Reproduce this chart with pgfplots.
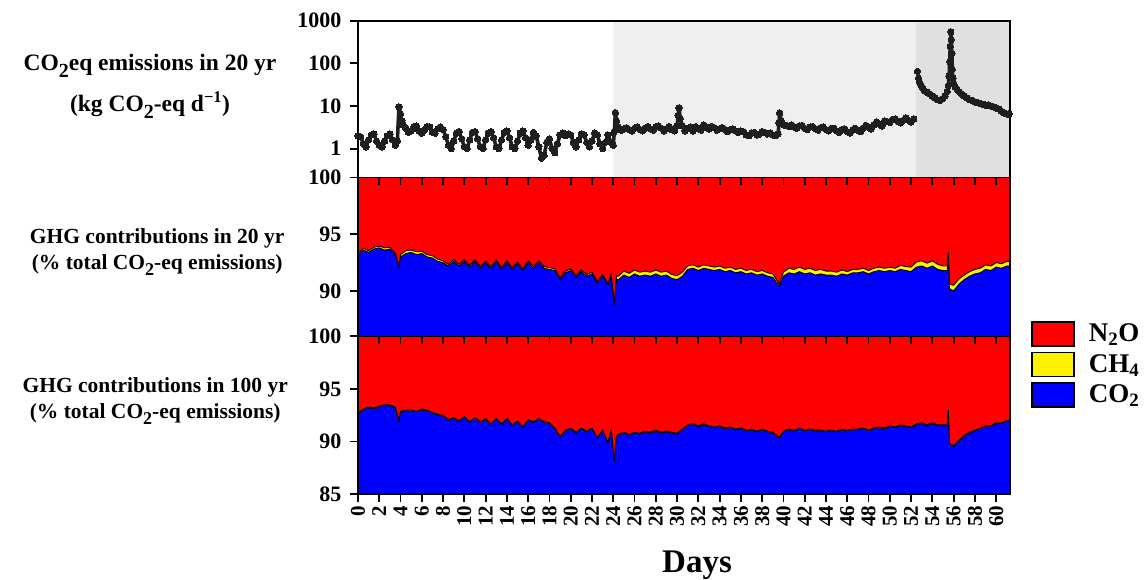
\documentclass[border=0pt]{standalone}
\usepackage{pgfplots}
\pgfplotsset{compat=1.18}
\usepackage{pgfplotstable}
\usepackage{fontspec}
\setmainfont{Liberation Serif}
\definecolor{lgray}{RGB}{239,239,239}
\definecolor{dgray}{RGB}{224,224,224}
\definecolor{dots}{RGB}{30,30,30}
\newcommand{\subtwo}{{\fontsize{18}{18}\selectfont\raisebox{-0.7ex}{2}}}
\newcommand{\subtwob}{{\fontsize{20}{20}\selectfont\raisebox{-0.7ex}{2}}}

\pgfplotstableread{
x y
0.00 2.0
0.25 1.9
0.50 1.3
0.75 1.1
1.00 1.6
1.25 2.1
1.50 2.2
1.75 1.5
2.00 1.2
2.25 1.1
2.50 1.5
2.75 2.0
3.00 2.2
3.25 1.6
3.50 1.2
3.70 1.5
3.85 9.5
4.00 6.5
4.12 4.5
4.25 3.6
4.50 3.0
4.75 2.4
5.00 2.6
5.25 3.3
5.50 3.4
5.75 2.6
6.00 2.3
6.25 2.8
6.50 3.3
6.75 3.2
7.00 2.4
7.25 2.3
7.50 2.9
7.75 3.2
8.00 2.8
8.25 1.9
8.50 1.2
8.75 1.0
9.00 1.5
9.25 2.3
9.50 2.5
9.75 1.7
10.00 1.1
10.25 1.0
10.50 1.6
10.75 2.4
11.00 2.5
11.25 1.7
11.50 1.1
11.75 1.0
12.00 1.6
12.25 2.3
12.50 2.5
12.75 1.8
13.00 1.1
13.25 1.0
13.50 1.6
13.75 2.4
14.00 2.6
14.25 1.8
14.50 1.1
14.75 1.0
15.00 1.5
15.25 2.3
15.50 2.6
15.75 1.8
16.00 1.2
16.25 1.6
16.50 2.4
16.75 2.0
17.00 1.1
17.25 0.6
17.50 0.7
17.75 1.4
18.00 1.7
18.25 1.0
18.50 0.8
18.75 1.3
19.00 2.1
19.25 2.3
19.50 2.0
19.75 2.2
20.00 2.1
20.25 1.4
20.50 1.1
20.75 1.6
21.00 2.2
21.25 2.1
21.50 1.4
21.75 1.1
22.00 1.5
22.25 2.3
22.50 2.1
22.75 1.3
23.00 1.0
23.25 1.4
23.50 2.1
23.75 1.4
24.00 1.2
24.10 2.5
24.20 7.0
24.30 4.5
24.45 3.2
24.75 2.7
25.00 2.9
25.25 3.1
25.50 2.8
25.75 2.6
26.00 3.0
26.25 3.2
26.50 2.8
26.75 2.6
27.00 3.0
27.25 3.3
27.50 2.9
27.75 2.7
28.00 3.2
28.25 3.4
28.50 3.0
28.75 2.6
29.00 2.9
29.25 3.3
29.50 2.8
29.75 2.6
30.00 3.4
30.10 6.0
30.18 9.0
30.30 5.0
30.50 3.4
30.75 2.6
31.00 3.0
31.25 3.2
31.50 2.6
31.75 3.3
32.00 3.0
32.25 2.7
32.50 3.6
32.75 3.2
33.00 2.9
33.25 3.3
33.50 3.1
33.75 2.7
34.00 2.9
34.25 3.1
34.50 2.8
34.75 2.5
35.00 2.8
35.25 2.9
35.50 2.6
35.75 2.4
36.00 2.6
36.25 2.5
36.50 2.1
36.75 2.0
37.00 2.3
37.25 2.4
37.50 2.1
37.75 2.2
38.00 2.5
38.25 2.4
38.50 2.2
38.75 2.3
39.00 2.1
39.25 2.0
39.50 2.2
39.58 4.0
39.65 6.8
39.80 4.5
40.00 3.6
40.25 3.5
40.50 3.3
40.75 3.6
41.00 3.2
41.25 3.0
41.50 3.4
41.75 3.5
42.00 3.0
42.25 2.8
42.50 3.2
42.75 3.3
43.00 2.9
43.25 2.7
43.50 3.1
43.75 3.2
44.00 2.8
44.25 2.6
44.50 3.0
44.75 3.0
45.00 2.6
45.25 2.4
45.50 2.8
45.75 2.9
46.00 2.5
46.25 2.3
46.50 2.7
46.75 3.0
47.00 2.7
47.25 2.5
47.50 3.0
47.75 3.5
48.00 3.2
48.25 2.9
48.50 3.6
48.75 4.2
49.00 3.8
49.25 3.4
49.50 4.5
49.75 4.3
50.00 4.1
50.25 4.8
50.50 5.0
50.75 4.4
51.00 4.0
51.25 4.6
51.50 5.3
51.75 4.6
52.00 4.2
52.25 5.0
}\emA

\pgfplotstableread{
x y
52.60 65
52.70 45
52.80 36
52.95 30
53.10 26
53.25 23
53.50 21
53.75 19
54.00 17
54.25 15.5
54.50 14
54.75 13.5
55.00 15
55.20 17
55.40 22
55.50 30
55.58 50
55.63 110
55.68 250
55.73 550
55.78 360
55.83 170
55.88 72
55.93 45
56.00 34
56.15 28
56.35 24
56.55 21
56.75 19
57.00 17
57.25 15.5
57.50 14
57.75 13.5
58.00 12.5
58.25 12
58.50 11.5
58.75 11
59.00 10.5
59.25 10.5
59.50 10
59.75 9.5
60.00 9
60.25 8.5
60.50 7.5
60.75 6.8
61.00 6.5
61.20 6.5
}\emB

\pgfplotstableread{
x c h
0.0 93.1 0.15
0.5 93.6 0.15
1.0 93.4 0.15
1.5 93.7 0.15
2.0 93.8 0.15
2.5 93.6 0.2
3.0 93.7 0.15
3.5 93.2 0.15
3.85 92.1 0.1
4.0 93.0 0.2
4.5 93.3 0.25
5.0 93.4 0.2
5.5 93.2 0.25
6.0 93.3 0.2
6.5 93.0 0.2
7.0 92.9 0.2
7.5 92.6 0.2
8.0 92.5 0.15
8.5 92.2 0.15
9.0 92.6 0.15
9.5 92.2 0.15
10.0 92.6 0.15
10.5 92.1 0.15
11.0 92.6 0.15
11.5 92.0 0.15
12.0 92.5 0.15
12.5 92.0 0.15
13.0 92.6 0.15
13.5 91.9 0.15
14.0 92.5 0.15
14.5 91.9 0.15
15.0 92.4 0.15
15.5 91.8 0.15
16.0 92.5 0.15
16.5 92.0 0.15
17.0 92.5 0.15
17.5 92.0 0.15
18.0 91.9 0.15
18.5 91.8 0.15
19.0 91.0 0.15
19.5 91.6 0.15
20.0 91.8 0.15
20.5 91.2 0.15
21.0 91.7 0.15
21.5 91.3 0.15
22.0 91.5 0.15
22.5 90.7 0.15
23.0 91.3 0.15
23.5 90.5 0.15
23.8 91.3 0.2
24.1 88.7 0.1
24.3 91.0 0.3
24.5 91.0 0.3
25.0 91.4 0.35
25.5 91.2 0.35
26.0 91.5 0.35
26.5 91.3 0.35
27.0 91.4 0.35
27.5 91.3 0.35
28.0 91.5 0.35
28.5 91.3 0.35
29.0 91.4 0.35
29.5 91.1 0.35
30.0 91.0 0.35
30.5 91.3 0.35
31.0 91.9 0.3
31.5 92.0 0.3
32.0 91.8 0.3
32.5 92.0 0.3
33.0 91.9 0.3
33.5 91.8 0.3
34.0 91.9 0.3
34.5 91.7 0.3
35.0 91.8 0.3
35.5 91.6 0.3
36.0 91.7 0.3
36.5 91.5 0.3
37.0 91.6 0.3
37.5 91.4 0.3
38.0 91.5 0.3
38.5 91.3 0.3
39.0 91.2 0.3
39.6 90.4 0.2
40.0 91.3 0.35
40.5 91.6 0.4
41.0 91.5 0.4
41.5 91.7 0.4
42.0 91.5 0.4
42.5 91.6 0.4
43.0 91.4 0.4
43.5 91.5 0.4
44.0 91.4 0.35
44.5 91.4 0.35
45.0 91.3 0.35
45.5 91.5 0.35
46.0 91.4 0.3
46.5 91.6 0.3
47.0 91.6 0.3
47.5 91.7 0.3
48.0 91.5 0.3
48.5 91.7 0.3
49.0 91.8 0.3
49.5 91.7 0.3
50.0 91.8 0.3
50.5 91.7 0.3
51.0 91.9 0.35
51.5 91.8 0.35
52.0 91.7 0.4
52.5 92.1 0.45
53.0 92.2 0.45
53.5 92.0 0.45
54.0 92.2 0.45
54.5 91.9 0.45
55.0 91.8 0.4
55.4 91.8 0.4
55.5 93.3 0.1
55.6 90.2 0.4
56.0 90.0 0.5
56.5 90.6 0.45
57.0 91.0 0.4
57.5 91.3 0.4
58.0 91.5 0.4
58.5 91.6 0.4
59.0 91.9 0.4
59.5 91.8 0.4
60.0 92.1 0.4
60.5 92.0 0.4
61.0 92.2 0.4
61.3 92.2 0.4
}\twenty

\pgfplotstableread{
x c h
0.0 92.6 0.08
0.5 93.0 0.08
1.0 93.2 0.08
1.5 93.1 0.08
2.0 93.3 0.08
2.5 93.4 0.08
3.0 93.4 0.08
3.5 93.2 0.08
3.85 91.9 0.08
4.0 92.8 0.08
4.5 92.9 0.08
5.0 92.9 0.08
5.5 92.8 0.08
6.0 93.0 0.08
6.5 92.9 0.08
7.0 92.7 0.08
7.5 92.5 0.08
8.0 92.4 0.08
8.5 92.0 0.08
9.0 92.2 0.08
9.5 91.9 0.08
10.0 92.3 0.08
10.5 91.8 0.08
11.0 92.2 0.08
11.5 91.8 0.08
12.0 92.1 0.08
12.5 91.6 0.08
13.0 92.1 0.08
13.5 91.6 0.08
14.0 92.1 0.08
14.5 91.5 0.08
15.0 91.9 0.08
15.5 91.3 0.08
16.0 92.0 0.08
16.5 91.8 0.08
17.0 92.1 0.08
17.5 91.8 0.08
18.0 91.7 0.08
18.5 91.2 0.08
19.0 90.4 0.08
19.5 91.0 0.08
20.0 91.2 0.08
20.5 90.8 0.08
21.0 91.2 0.08
21.5 90.9 0.08
22.0 91.2 0.08
22.5 90.3 0.08
23.0 91.0 0.08
23.5 89.8 0.08
23.8 91.0 0.08
24.1 88.1 0.08
24.3 90.4 0.08
24.5 90.6 0.08
25.0 90.8 0.08
25.5 90.6 0.08
26.0 90.8 0.08
26.5 90.7 0.08
27.0 90.9 0.08
27.5 90.8 0.08
28.0 91.0 0.08
28.5 90.8 0.08
29.0 90.9 0.08
29.5 90.8 0.08
30.0 90.7 0.08
30.5 91.1 0.08
31.0 91.5 0.08
31.5 91.6 0.08
32.0 91.4 0.08
32.5 91.6 0.08
33.0 91.4 0.08
33.5 91.3 0.08
34.0 91.4 0.08
34.5 91.2 0.08
35.0 91.3 0.08
35.5 91.1 0.08
36.0 91.2 0.08
36.5 91.0 0.08
37.0 91.1 0.08
37.5 90.9 0.08
38.0 91.1 0.08
38.5 90.9 0.08
39.0 90.8 0.08
39.6 90.3 0.08
40.0 90.9 0.08
40.5 91.1 0.08
41.0 91.0 0.08
41.5 91.2 0.08
42.0 91.0 0.08
42.5 91.1 0.08
43.0 91.0 0.08
43.5 91.0 0.08
44.0 90.9 0.08
44.5 91.0 0.08
45.0 90.9 0.08
45.5 91.1 0.08
46.0 91.0 0.08
46.5 91.1 0.08
47.0 91.1 0.08
47.5 91.2 0.08
48.0 91.0 0.08
48.5 91.2 0.08
49.0 91.3 0.08
49.5 91.2 0.08
50.0 91.4 0.08
50.5 91.3 0.08
51.0 91.5 0.08
51.5 91.4 0.08
52.0 91.3 0.08
52.5 91.6 0.08
53.0 91.7 0.08
53.5 91.5 0.08
54.0 91.7 0.08
54.5 91.5 0.08
55.0 91.5 0.08
55.4 91.5 0.08
55.5 92.9 0.08
55.6 89.8 0.08
56.0 89.5 0.1
56.5 90.0 0.1
57.0 90.5 0.08
57.5 90.8 0.08
58.0 91.0 0.08
58.5 91.2 0.08
59.0 91.4 0.08
59.5 91.4 0.08
60.0 91.7 0.08
60.5 91.7 0.08
61.0 91.9 0.08
61.3 91.9 0.08
}\hundred

\pgfplotsset{
  panel/.style={
    scale only axis, width=652pt,
    xmin=0, xmax=61.3,
    xtick={0,2,...,60},
    tick align=outside, xtick pos=left, ytick pos=left,
    major tick length=8pt,
    every tick/.style={black, line width=1.8pt},
    axis line style={black, line width=1.6pt},
    tick label style={font=\fontsize{22}{26}\selectfont\bfseries},
    yticklabel style={xshift=-5pt},
    ylabel style={rotate=-90, anchor=center, align=center,
      font=\fontsize{21.5}{26}\selectfont\bfseries},
    /pgf/number format/assume math mode=true,
    axis on top,
  },
}

\begin{document}
\begin{tikzpicture}
\path[use as bounding box] (-358pt,-85pt) rectangle (789pt,494pt);

% bottom panel: 100 yr
\begin{axis}[panel, at={(0pt,0pt)}, anchor=south west, height=157.7pt,
  ymin=85, ymax=100, ytick={85,90,95,100}, yticklabels={85,90,95,100},
  xticklabels={0,2,4,6,8,10,12,14,16,18,20,22,24,26,28,30,32,34,36,38,40,42,44,46,48,50,52,54,56,58,60},
  xticklabel style={rotate=90, anchor=east, font=\fontsize{21}{25}\selectfont\bfseries},
  xlabel={Days},
  xlabel style={font=\fontsize{33}{38}\selectfont\bfseries, at={(axis description cs:0.52,-0.34)}, anchor=north},
  ylabel={GHG contributions in 100 yr\\(\% total CO\subtwo-eq emissions)},
  ylabel style={at={(axis description cs:-0.311,0.59)}},
]
\addplot[fill=red, draw=none] coordinates {(0,100) (61.3,100)} \closedcycle;
\addplot[fill=yellow, draw=black, line width=0.9pt] table[x=x, y expr=\thisrow{c}+\thisrow{h}] {\hundred} \closedcycle;
\addplot[fill=blue, draw=black, line width=0.9pt] table[x=x, y=c] {\hundred} \closedcycle;
\end{axis}

% middle panel: 20 yr
\begin{axis}[panel, at={(0pt,157.7pt)}, anchor=south west, height=158.8pt,
  ymin=86, ymax=100, ytick={90,95,100}, yticklabels={90,95,100},
  xticklabels={},
  ylabel={GHG contributions in 20 yr\\(\% total CO\subtwo-eq emissions)},
  ylabel style={at={(axis description cs:-0.308,0.53)}},
  legend style={draw=none, fill=none, at={(axis description cs:1.028,0.11)}, anchor=north west,
    font=\fontsize{27}{30}\selectfont\bfseries, row sep=5pt,
    nodes={inner sep=1pt}},
  legend cell align=left,
  legend image code/.code={\draw[#1, draw=black, line width=1.5pt] (0pt,-12pt) rectangle (42pt,12pt);},
]
\addplot[fill=red, draw=none] coordinates {(0,100) (61.3,100)} \closedcycle;
\addlegendentry{\hspace{13pt}N\textsubscript{2}O}
\addplot[fill=yellow, draw=black, line width=0.9pt] table[x=x, y expr=\thisrow{c}+\thisrow{h}] {\twenty} \closedcycle;
\addlegendentry{\hspace{13pt}CH\textsubscript{4}}
\addplot[fill=blue, draw=black, line width=0.9pt] table[x=x, y=c] {\twenty} \closedcycle;
\addlegendentry{\hspace{13pt}CO\textsubscript{2}}
\end{axis}

% top panel: emissions
\begin{axis}[panel, at={(0pt,316.5pt)}, anchor=south west, height=156.8pt,
  ymode=log, ymin=0.21, ymax=1000, ytick={1,10,100,1000}, yticklabels={1,10,100,1000},
  yminorticks=false,
  xticklabels={},
  ylabel={CO\subtwob eq emissions in 20 yr\\[13pt](kg CO\subtwob-eq d\textsuperscript{−1})},
  ylabel style={at={(axis description cs:-0.319,0.58)}, font=\fontsize{23.5}{28}\selectfont\bfseries},
]
\addplot[fill=lgray, draw=none] coordinates {(24,0.21) (24,1000) (52.45,1000) (52.45,0.21) (24,0.21)};
\addplot[fill=dgray, draw=none] coordinates {(52.45,0.21) (52.45,1000) (61.3,1000) (61.3,0.21) (52.45,0.21)};
\addplot[dots, line width=3.6pt, line join=round, line cap=round, mark=*, mark size=3.2pt, mark options={fill=dots, draw=dots, line width=0pt}] table[x=x, y=y] {\emA};
\addplot[dots, line width=3.6pt, line join=round, line cap=round, mark=*, mark size=3.2pt, mark options={fill=dots, draw=dots, line width=0pt}] table[x=x, y=y] {\emB};
\end{axis}
\end{tikzpicture}
\end{document}
